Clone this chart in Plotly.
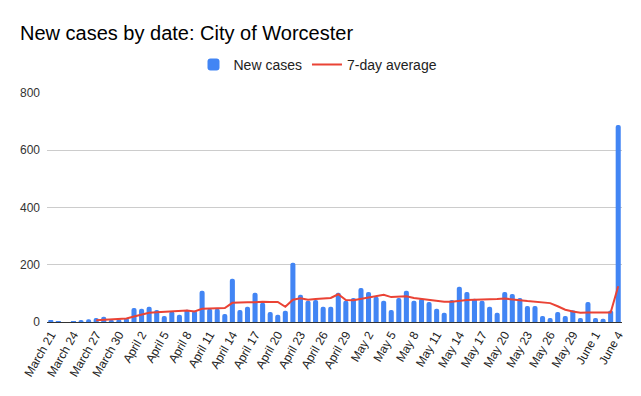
import plotly.graph_objects as go

march = [f"March {d}" for d in range(21, 32)]
april = [f"April {d}" for d in range(1, 31)]
may = [f"May {d}" for d in range(1, 32)]
june = [f"June {d}" for d in range(1, 5)]
dates = march + april + may + june

new_cases = [
    5, 1, 0, 1, 7, 10, 14, 18, 8, 10, 14,
    49, 46, 53, 42, 21, 37, 25, 43, 39, 109,
    46, 46, 28, 151, 42, 53, 102, 67, 35, 25,
    39, 207, 95, 74, 77, 53, 53, 102, 74, 84,
    119, 105, 88, 74, 42, 84, 109, 74, 81, 70,
    46, 32, 77, 123, 105, 81, 74, 53, 32, 105,
    98, 84, 56, 56, 21, 14, 35, 21, 41, 14, 70,
    14, 11, 40, 688,
]

avg7 = [
    None, None, None, None, None, None, 6, 7, 8, 10, 12,
    19, 26, 32, 34, 36, 37, 40, 40, 37, 46,
    47, 49, 49, 67, 69, 69, 69, 71, 70, 70,
    53, 78, 83, 78, 80, 82, 84, 97, 77, 76,
    81, 84, 90, 95, 87, 88, 90, 84, 81, 77,
    74, 71, 71, 75, 77, 78, 78, 78, 80, 82,
    78, 76, 73, 70, 68, 66, 55, 43, 37, 32, 33,
    33, 33, 33, 125,
]

tick_labels = dates[::3]
y_ticks = [0, 200, 400, 600, 800]

# the page body adds an 8px offset, so the figure is drawn 8px smaller
W, H = 633, 388

fig = go.Figure()
fig.add_trace(go.Bar(
    x=dates, y=new_cases, name="New cases",
    marker=dict(color="#4285F4", cornerradius=2, line=dict(width=0)),
))
fig.add_trace(go.Scatter(
    x=dates, y=avg7, name="7-day average", mode="lines",
    line=dict(color="#EA4335", width=2),
))

fig.update_layout(
    width=W, height=H,
    margin=dict(l=39, r=19, t=85, b=74, autoexpand=False),
    paper_bgcolor="white", plot_bgcolor="white",
    font=dict(family="Liberation Sans, Arial, sans-serif", color="#222222", size=12),
    title=dict(text="New cases by date: City of Worcester", x=12/W, xref="container",
               xanchor="left", y=1-25/H, yref="container", yanchor="middle",
               pad=dict(l=0, r=0, t=0, b=0),
               font=dict(size=20, color="#000000")),
    legend=dict(orientation="h", x=310/W, xref="container", xanchor="center",
                y=1-57/H, yref="container", yanchor="middle",
                font=dict(size=14, color="#222222"), itemwidth=30,
                traceorder="normal"),
    bargap=0.33,
    showlegend=True,
)
fig.update_xaxes(
    type="category", tickmode="array", tickvals=tick_labels, ticktext=tick_labels,
    tickangle=-60, showgrid=False, ticks="", showline=True, linecolor="#333333",
    linewidth=1, tickfont=dict(size=12, color="#222222"), automargin=False,
)
fig.update_yaxes(
    range=[0, 800], tickvals=y_ticks, showgrid=True, gridcolor="#cccccc",
    gridwidth=1, zeroline=False, ticks="", tickfont=dict(size=12, color="#333333"),
    ticklabelstandoff=6, automargin=False,
)

fig.write_html("out.html")
